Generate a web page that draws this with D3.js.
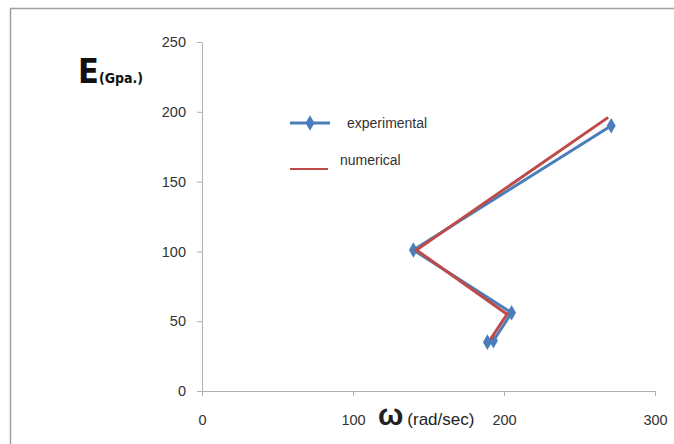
<!DOCTYPE html>
<html>
<head>
<meta charset="utf-8">
<script src="https://cdn.jsdelivr.net/npm/d3@7"></script>
<style>
body { margin: 0; background: #fff; }
.axis path, .axis line { stroke: #b0b0b0; }
.axis text { font-family: "Liberation Sans", sans-serif; font-size: 14.5px; fill: #333; }
.line { fill: none; stroke-width: 3px; }
.legend text { font-family: "Liberation Sans", sans-serif; font-size: 14px; fill: #333; }
</style>
</head>
<body>
<svg id="chart" width="674" height="444"></svg>
<script>
// E (GPa) against omega (rad/sec)
var expOmega = [271, 140, 205, 193, 189];
var expE     = [190, 101, 56, 36, 35];
var numOmega = [269, 142, 202, 191];
var numE     = [196, 101, 55, 37];
var xTicks = [0, 100, 200, 300];
var yTicks = [0, 50, 100, 150, 200, 250];

var blue = "#4a7ebb", red = "#be4b48";

var svg = d3.select("#chart");

// frame
svg.append("rect")
  .attr("x", 10.5).attr("y", 8.5)
  .attr("width", 700).attr("height", 500)
  .attr("fill", "none").attr("stroke", "#a0a0a0").attr("stroke-width", 1.5);

var x = d3.scaleLinear().domain([0, 300]).range([202, 655]);
var y = d3.scaleLinear().domain([0, 250]).range([391, 42]);

svg.append("g")
  .attr("class", "axis")
  .attr("transform", "translate(0," + y(0) + ")")
  .call(d3.axisBottom(x).tickValues(xTicks).tickSize(5).tickPadding(19).tickSizeOuter(0))
  .call(function(g){ g.selectAll("text").attr("dy", "0.71em"); });

svg.append("g")
  .attr("class", "axis")
  .attr("transform", "translate(" + x(0) + ",0)")
  .call(d3.axisLeft(y).tickValues(yTicks).tickSize(5).tickPadding(11).tickSizeOuter(0));

var exp = expOmega.map(function(d, i){ return {x: d, y: expE[i]}; });
var num = numOmega.map(function(d, i){ return {x: d, y: numE[i]}; });

var line = d3.line()
  .x(function(d){ return x(d.x); })
  .y(function(d){ return y(d.y); });

svg.append("path").datum(exp).attr("class", "line").attr("stroke", blue).attr("d", line);

var diamond = d3.symbol().type(d3.symbolDiamond).size(70);
svg.selectAll(".pt").data(exp).enter().append("path")
  .attr("class", "pt")
  .attr("transform", function(d){ return "translate(" + x(d.x) + "," + y(d.y) + ")"; })
  .attr("d", diamond).attr("fill", blue);

svg.append("path").datum(num).attr("class", "line").attr("stroke", red).attr("d", line);

// axis titles
var yt = svg.append("text").attr("x", 78).attr("y", 83)
  .style("font-family", "'DejaVu Sans Condensed', 'DejaVu Sans', sans-serif")
  .style("font-weight", "bold").style("fill", "#111");
yt.append("tspan").style("font-size", "34px").text("E");
yt.append("tspan").style("font-size", "14px").attr("dx", 0).text("(Gpa.)");

var xt = svg.append("text").attr("x", 378).attr("y", 425)
  .style("font-family", "'Liberation Sans', sans-serif").style("fill", "#222");
xt.append("tspan").style("font-weight", "bold").style("font-size", "30px").text("ω");
xt.append("tspan").style("font-size", "17px").attr("dx", 4).text("(rad/sec)");

// legend
var lg = svg.append("g").attr("class", "legend");
lg.append("line").attr("x1", 290).attr("x2", 330).attr("y1", 123).attr("y2", 123)
  .attr("stroke", blue).attr("stroke-width", 3);
lg.append("path").attr("transform", "translate(310,123)").attr("d", diamond).attr("fill", blue);
lg.append("text").attr("x", 347).attr("y", 128).text("experimental");
lg.append("line").attr("x1", 290).attr("x2", 328).attr("y1", 169).attr("y2", 169)
  .attr("stroke", red).attr("stroke-width", 2);
lg.append("text").attr("x", 340).attr("y", 165).text("numerical");
</script>
</body>
</html>
